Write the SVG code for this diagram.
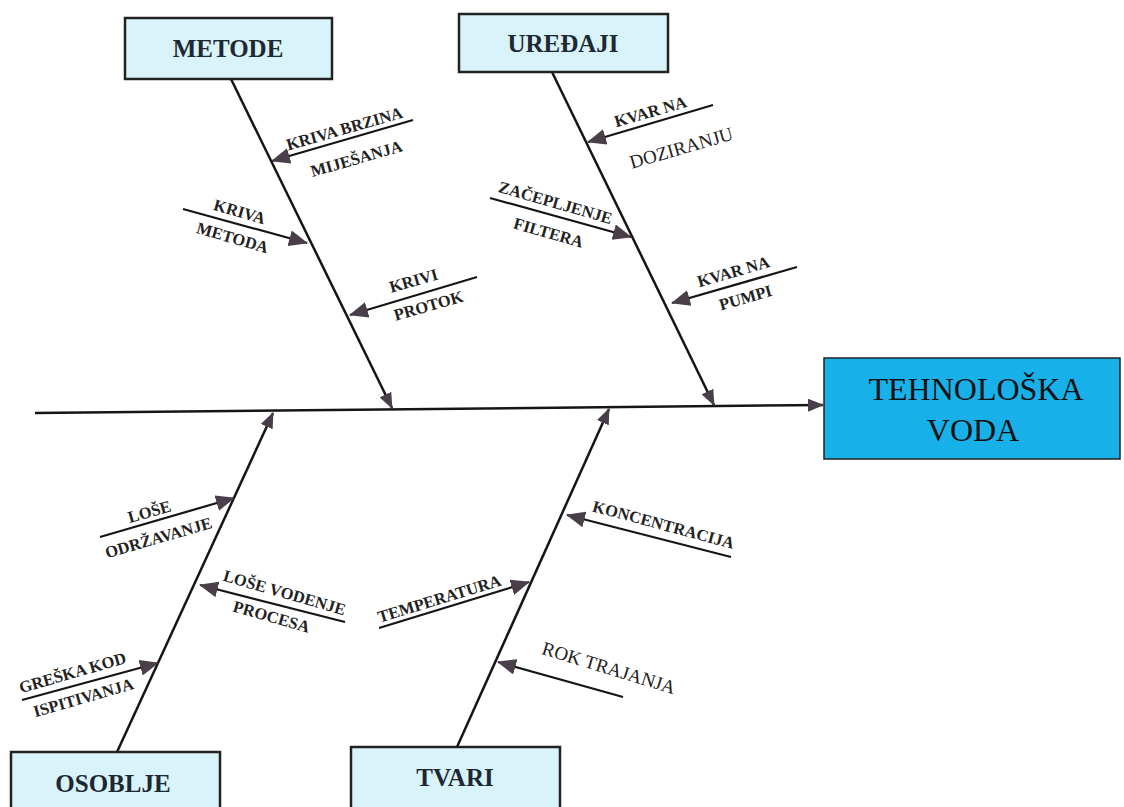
<svg xmlns="http://www.w3.org/2000/svg" width="1124" height="807" viewBox="0 0 1124 807">
<defs>
<style>
.box{fill:#d8f3fa;stroke:#222;stroke-width:2.5}
.main{fill:#17b0e8;stroke:#222;stroke-width:1.5}
.bt{font-family:"Liberation Serif",serif;font-weight:bold;font-size:25px;fill:#1e2833;text-anchor:middle}
.mt{font-family:"Liberation Serif",serif;font-size:32px;fill:#111;text-anchor:middle}
.lb{font-family:"Liberation Serif",serif;font-weight:bold;font-size:16.5px;fill:#222;text-anchor:middle}
.ln{font-family:"Liberation Serif",serif;font-size:19px;fill:#222;text-anchor:middle}
.bone{stroke:#151515;stroke-width:2.5;fill:none}
.sub{stroke:#151515;stroke-width:2.2;fill:none}
</style>
<marker id="ah" markerUnits="userSpaceOnUse" markerWidth="16" markerHeight="13" refX="15" refY="6.5" orient="auto">
<path d="M0,0 L16,6.5 L0,13 z" fill="#4a3f49"/>
</marker>
<marker id="as" markerUnits="userSpaceOnUse" markerWidth="19" markerHeight="16" refX="18" refY="8" orient="auto">
<path d="M0,0 L19,8 L0,16 z" fill="#4a3f49"/>
</marker>
</defs>
<rect width="1124" height="807" fill="#fff"/>

<g id="connectors">
<line class="bone" x1="35" y1="413" x2="823" y2="405" marker-end="url(#ah)"/>
<line class="bone" x1="231" y1="79" x2="392" y2="408" marker-end="url(#ah)"/>
<line class="bone" x1="552" y1="72" x2="714" y2="405" marker-end="url(#ah)"/>
<line class="bone" x1="117" y1="752" x2="273" y2="413" marker-end="url(#ah)"/>
<line class="bone" x1="457" y1="747" x2="609" y2="409" marker-end="url(#ah)"/>
<line class="sub" x1="413" y1="120" x2="272" y2="161" marker-end="url(#as)"/>
<line class="sub" x1="183" y1="209" x2="307" y2="243" marker-end="url(#as)"/>
<line class="sub" x1="477" y1="277" x2="350" y2="315" marker-end="url(#as)"/>
<line class="sub" x1="713" y1="105" x2="588" y2="142" marker-end="url(#as)"/>
<line class="sub" x1="490" y1="198" x2="631" y2="237" marker-end="url(#as)"/>
<line class="sub" x1="797" y1="267" x2="672" y2="303" marker-end="url(#as)"/>
<line class="sub" x1="100" y1="537" x2="234" y2="498" marker-end="url(#as)"/>
<line class="sub" x1="345" y1="622" x2="200" y2="585" marker-end="url(#as)"/>
<line class="sub" x1="22" y1="700" x2="158" y2="663" marker-end="url(#as)"/>
<line class="sub" x1="731" y1="557" x2="567" y2="515" marker-end="url(#as)"/>
<line class="sub" x1="379" y1="628" x2="529" y2="582" marker-end="url(#as)"/>
<line class="sub" x1="623" y1="697" x2="498" y2="662" marker-end="url(#as)"/>
</g>

<g id="metode">
<rect class="box" x="125" y="18" width="207" height="61"/>
<text class="bt" x="228" y="57">METODE</text>
</g>
<g id="uredjaji">
<rect class="box" x="459" y="14" width="209" height="58"/>
<text class="bt" x="563" y="52">UREĐAJI</text>
</g>
<g id="osoblje">
<rect class="box" x="11" y="752" width="209" height="62"/>
<text class="bt" x="113" y="792">OSOBLJE</text>
</g>
<g id="tvari">
<rect class="box" x="351" y="747" width="209" height="67"/>
<text class="bt" x="455" y="786">TVARI</text>
</g>
<g id="tehnoloska-voda">
<rect class="main" x="824" y="358" width="296" height="101"/>
<text class="mt" x="976" y="400">TEHNOLOŠKA</text>
<text class="mt" x="973" y="441">VODA</text>
</g>

<g id="cause-kriva-brzina">
<text class="lb" transform="translate(346,134) rotate(-16)">KRIVA BRZINA</text>
<text class="lb" transform="translate(358,164) rotate(-16)">MIJEŠANJA</text>
</g>
<g id="cause-kriva-metoda">
<text class="lb" transform="translate(238,217) rotate(16)">KRIVA</text>
<text class="lb" transform="translate(231,243) rotate(16)">METODA</text>
</g>
<g id="cause-krivi-protok">
<text class="lb" transform="translate(415,286) rotate(-16)">KRIVI</text>
<text class="lb" transform="translate(430,311) rotate(-16)">PROTOK</text>
</g>
<g id="cause-kvar-doziranju">
<text class="lb" transform="translate(652,117) rotate(-16)">KVAR NA</text>
<text class="ln" transform="translate(683,154) rotate(-16)">DOZIRANJU</text>
</g>
<g id="cause-zacepljenje">
<text class="lb" transform="translate(554,208) rotate(16)">ZAČEPLJENJE</text>
<text class="lb" transform="translate(547,238) rotate(16)">FILTERA</text>
</g>
<g id="cause-kvar-pumpi">
<text class="lb" transform="translate(735,277) rotate(-16)">KVAR NA</text>
<text class="lb" transform="translate(747,303) rotate(-16)">PUMPI</text>
</g>
<g id="cause-lose-odrzavanje">
<text class="lb" transform="translate(151,517) rotate(-16)">LOŠE</text>
<text class="lb" transform="translate(160,543) rotate(-16)">ODRŽAVANJE</text>
</g>
<g id="cause-lose-vodenje">
<text class="lb" transform="translate(283,598) rotate(16)">LOŠE VODENJE</text>
<text class="lb" transform="translate(270,622) rotate(16)">PROCESA</text>
</g>
<g id="cause-greska">
<text class="lb" transform="translate(74,678) rotate(-16)">GREŠKA KOD</text>
<text class="lb" transform="translate(85,703) rotate(-16)">ISPITIVANJA</text>
</g>
<g id="cause-koncentracija">
<text class="lb" transform="translate(662,530) rotate(15)">KONCENTRACIJA</text>
</g>
<g id="cause-temperatura">
<text class="lb" transform="translate(441,604) rotate(-17)">TEMPERATURA</text>
</g>
<g id="cause-rok-trajanja">
<text class="ln" transform="translate(607,674) rotate(17)">ROK TRAJANJA</text>
</g>
</svg>
